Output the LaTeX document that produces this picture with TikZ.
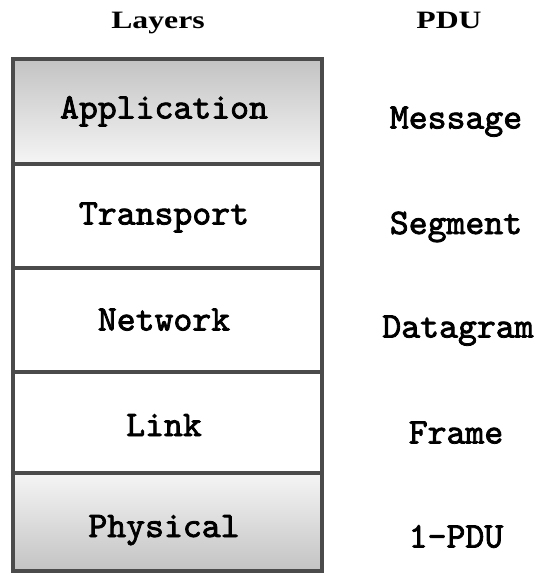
\documentclass[tikz,border=0pt]{standalone}
\usepackage{fontspec}
\newfontfamily\headfont{Liberation Serif}[FakeStretch=1.27]
\newfontfamily\monof{lmmono10-regular}[Extension=.otf,FakeBold=2.2]
\definecolor{edge}{RGB}{75,75,75}
\definecolor{shadeD}{RGB}{195,195,195}
\definecolor{shadeL}{RGB}{245,245,245}
\tikzset{
  layer/.style={draw=edge, line width=3.4pt, minimum width=309pt, inner sep=0pt, outer sep=0pt,
    font=\monof\fontsize{36}{40}\selectfont, text height=22pt, text depth=0pt},
  pdu/.style={font=\monof\fontsize{36}{40}\selectfont, text height=22pt, text depth=0pt, inner sep=0pt},
  head/.style={font=\headfont\bfseries\fontsize{25}{28}\selectfont, text height=16pt, text depth=0pt, inner sep=0pt}
}
\begin{document}
\begin{tikzpicture}[x=1pt,y=-1pt]
\useasboundingbox (0,0) rectangle (535,573);
\fill[white] (0,0) rectangle (535,573);
% headers
\node[head] (hl) at (158,20) {Layers};
\node[head] (hp) at (449,20) {PDU};
% layer boxes
\node[layer, minimum height=105pt, top color=shadeD, bottom color=shadeL] (app) at (167.5,111.5) {};
\node[layer, minimum height=104pt, fill=white] (tra) at (167.5,216) {};
\node[layer, minimum height=104pt, fill=white] (net) at (167.5,320) {};
\node[layer, minimum height=101pt, fill=white] (lnk) at (167.5,422.5) {};
\node[layer, minimum height=98pt, top color=shadeL, bottom color=shadeD] (phy) at (167.5,522) {};
% outer frame
\draw[edge, line width=3.4pt, rounded corners=2pt] (app.north west) rectangle (phy.south east);
% layer texts
\node[pdu] (tapp) at (164,107.5) {Application};
\node[pdu] (ttra) at (164,213.5) {Transport};
\node[pdu] (tnet) at (164,319.5) {Network};
\node[pdu] (tlnk) at (164,425) {Link};
\node[pdu] (tphy) at (164,526) {Physical};
% PDU texts
\node[pdu] (msg) at (456,117.5) {Message};
\node[pdu] (seg) at (456,223) {Segment};
\node[pdu] (dgr) at (458,326.5) {Datagram};
\node[pdu] (frm) at (456,432.5) {Frame};
\node[pdu] (ph1) at (456,536.5) {1-PDU};
\end{tikzpicture}
\end{document}
